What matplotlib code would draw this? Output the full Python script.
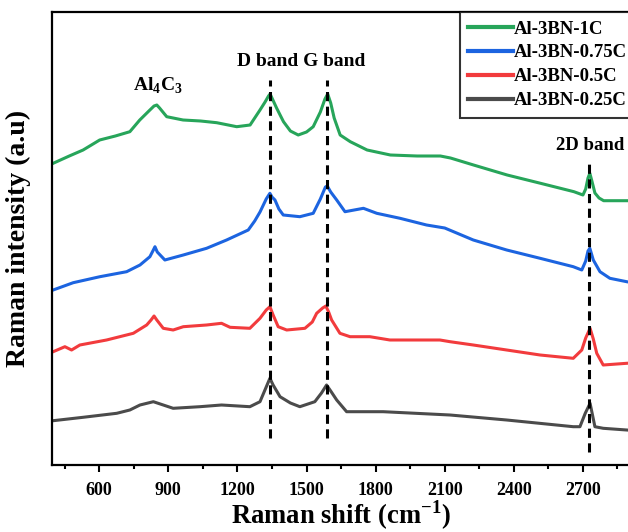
import matplotlib
matplotlib.use("Agg")
import matplotlib.pyplot as plt
from matplotlib.ticker import MultipleLocator, FixedLocator

plt.rcParams['font.family'] = ['Liberation Serif', 'DejaVu Serif']
plt.rcParams['font.weight'] = 'bold'
plt.rcParams['mathtext.fontset'] = 'custom'
plt.rcParams['mathtext.rm'] = 'Liberation Serif:bold'
plt.rcParams['mathtext.bf'] = 'Liberation Serif:bold'

# ---- data (Raman shift in cm^-1, intensity in arbitrary units) ----
shift_1c = [400, 470, 530, 602, 670, 733, 776, 820, 838, 850, 862, 893, 964, 1040, 1110, 1197, 1255,
            1298, 1320, 1335, 1342, 1352, 1370, 1400, 1430, 1464, 1500, 1529, 1560, 1580, 1592, 1605,
            1620, 1646, 1690, 1763, 1864, 1980, 2081, 2125, 2225, 2371, 2516, 2661, 2700, 2712, 2722,
            2730, 2740, 2752, 2770, 2790, 2893]
int_1c = [301.7, 309, 315, 325, 329, 333.3, 345, 355, 359, 360, 357, 348.3, 345, 344, 342.3, 338.3, 340,
          355, 363, 369, 371, 366, 357, 343.3, 334, 330, 333, 338.3, 353, 366, 371, 362,
          347, 330, 323.3, 315, 310, 309, 309, 307, 300, 290, 281.7, 273.3, 270, 276, 287,
          291.7, 283, 272, 267, 264.3, 264.3]

shift_075c = [400, 487, 603, 719, 777, 820, 835, 842, 852, 885, 965, 1066, 1153, 1247, 1275, 1298,
              1325, 1341, 1350, 1363, 1380, 1399, 1471, 1529, 1560, 1582, 1590, 1605, 1631, 1667,
              1747, 1805, 1906, 2021, 2100, 2224, 2369, 2514, 2658, 2695, 2712, 2722, 2730, 2745,
              2774, 2817, 2890]
int_075c = [175, 182.3, 188.3, 193.3, 200, 208.3, 215, 218.3, 213, 205, 210, 216.7, 225, 235, 244, 253,
            266, 271.7, 268, 265, 256, 250, 248.3, 251.7, 266, 278, 279, 273, 265, 253.3,
            256.7, 251.7, 246.7, 240, 237, 225, 215, 206.7, 198.3, 195, 204, 214, 216.7, 205,
            193.3, 186.7, 183.3]

shift_05c = [400, 451, 480, 516, 632, 748, 806, 825, 838, 850, 878, 921, 965, 1066, 1131, 1168, 1254,
             1298, 1325, 1341, 1355, 1377, 1414, 1493, 1525, 1544, 1570, 1584, 1596, 1609, 1645, 1689,
             1775, 1862, 2079, 2123, 2224, 2369, 2514, 2658, 2695, 2712, 2731, 2745, 2760, 2788, 2890]
int_05c = [113.3, 118.3, 115, 120, 125, 131.7, 140, 145, 149, 145, 136.7, 135, 138.3, 140, 141.7, 137.7, 136.7,
           146.7, 155, 158.3, 150, 138.3, 135, 136.7, 143, 151.7, 157, 159, 153, 145, 131.7, 128.3,
           128.3, 125, 125, 123.3, 120, 115, 110, 106.7, 115, 127, 136.7, 126, 111.7, 100, 101.7]

shift_025c = [400, 530, 676, 733, 777, 835, 878, 921, 1037, 1131, 1254, 1298, 1325, 1341, 1355, 1385,
              1430, 1471, 1536, 1565, 1587, 1605, 1631, 1674, 1833, 2123, 2369, 2658, 2687, 2710, 2731,
              2752, 2788, 2890]
int_025c = [44.3, 47.7, 51.7, 55, 60, 63.3, 60, 56.7, 58.3, 60, 58.3, 63.3, 78, 86.7, 80, 68.3,
            62, 58.3, 63.3, 72, 80, 74, 65, 53.3, 53.3, 50, 45, 38.3, 38.3, 51.7, 61.7,
            38.3, 36.7, 35]

series_labels = ['Al-3BN-1C', 'Al-3BN-0.75C', 'Al-3BN-0.5C', 'Al-3BN-0.25C']
series_colors = ['#27a55a', '#1c64e0', '#f23b3d', '#4b4b4b']

band_positions = [1343, 1590, 2728]
band_spans = [(27, 385), (27, 385), (13, 303)]

x_ticks = [600, 900, 1200, 1500, 1800, 2100, 2400, 2700]

# ---- figure ----
fig = plt.figure(figsize=(6.28, 5.32), dpi=100)
ax = fig.add_axes([52 / 628, 1 - 465 / 532, 577 / 628, 453 / 532])

xs = [shift_1c, shift_075c, shift_05c, shift_025c]
ys = [int_1c, int_075c, int_05c, int_025c]
for x, y, lab, c in zip(xs, ys, series_labels, series_colors):
    ax.plot(x, y, color=c, lw=2.2, label=lab, solid_joinstyle='round')

for pos, (y0, y1) in zip(band_positions, band_spans):
    ax.plot([pos, pos], [y0, y1], color='black', lw=2.2, linestyle=(0, (3, 1.8)))

ax.set_xlim(395, 2900)
ax.set_ylim(0, 453)

ax.xaxis.set_major_locator(FixedLocator(x_ticks))
ax.xaxis.set_minor_locator(MultipleLocator(150))
ax.set_yticks([])
ax.tick_params(axis='x', which='major', direction='out', length=5, width=1.5, labelsize=13, pad=7)
ax.tick_params(axis='x', which='minor', direction='out', length=3, width=1.5)
for lbl in ax.get_xticklabels():
    lbl.set_fontweight('bold')

for s in ['left', 'bottom', 'top']:
    ax.spines[s].set_linewidth(1.6)
ax.spines['right'].set_visible(False)

ax.set_xlabel('Raman shift (cm$^{\\mathregular{-1}}$)', fontsize=19.2, fontweight='bold', labelpad=0)
ax.set_ylabel('Raman intensity (a.u)', fontsize=20, fontweight='bold', labelpad=15)

ax.text(853, 379, 'Al$_4$C$_3$', fontsize=14, fontweight='bold', ha='center', va='center')
ax.text(1476, 403, 'D band G band', fontsize=14, fontweight='bold', ha='center', va='center')
ax.text(2730, 319, '2D band', fontsize=13.5, fontweight='bold', ha='center', va='center')

leg = fig.legend(loc='upper left', bbox_to_anchor=(460 / 628, 1 - 12 / 532),
                 frameon=True, fancybox=False, edgecolor='black', fontsize=13.5,
                 handlelength=2.4, handletextpad=0.0, labelspacing=0.36, borderpad=0.45,
                 borderaxespad=0)
leg.get_frame().set_linewidth(1.5)
for t in leg.get_texts():
    t.set_fontweight('bold')
for h in leg.get_lines():
    h.set_linewidth(3)

fig.savefig('out.png', dpi=100)
